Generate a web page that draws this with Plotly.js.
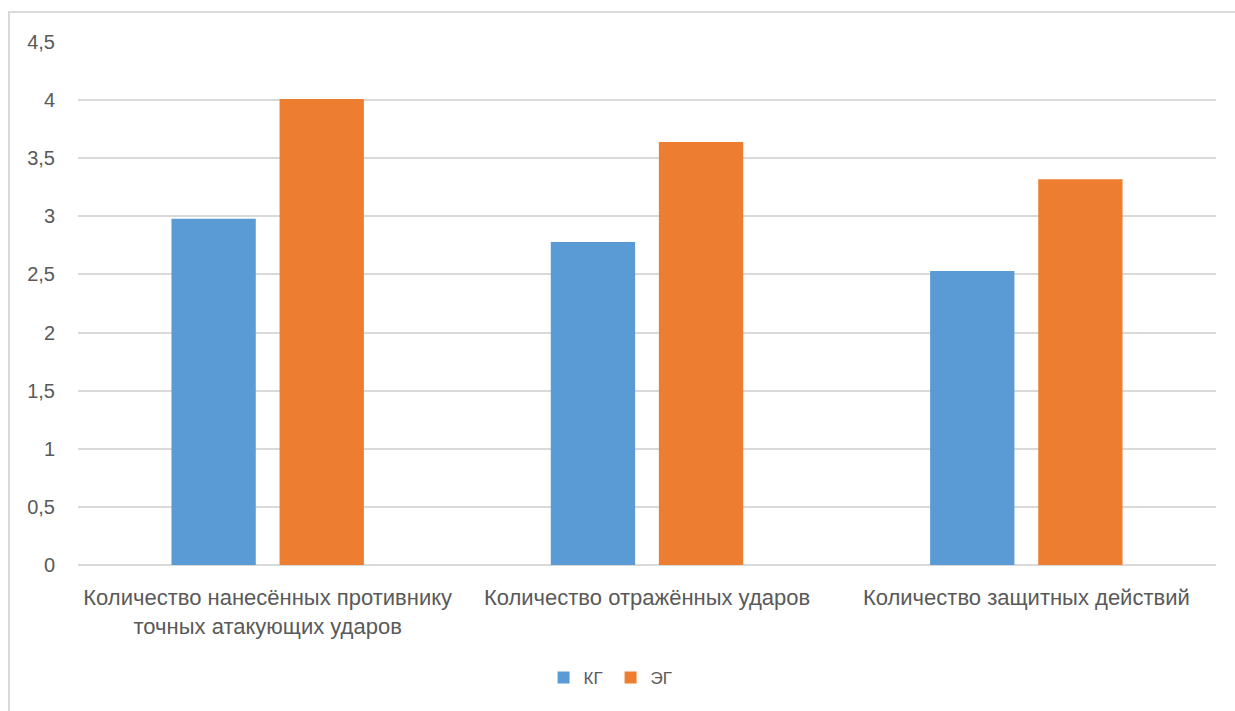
<!DOCTYPE html>
<html>
<head>
<meta charset="utf-8">
<script src="https://cdn.plot.ly/plotly-3.0.1.min.js"></script>
<style>
  html, body { margin: 0; padding: 0; background: #ffffff; }
  #wrap { position: relative; width: 1235px; height: 711px; }
  #chart { width: 1235px; height: 711px; }
  #frame {
    position: absolute; left: 8px; top: 11px; right: 0; bottom: 0;
    border-top: 2px solid #d9d9d9; border-left: 2px solid #d9d9d9;
    pointer-events: none;
  }
</style>
</head>
<body>
<div id="wrap">
  <div id="chart"></div>
  <div id="frame"></div>
</div>
<script>
// Показатели по группам (КГ — контрольная, ЭГ — экспериментальная)
const categories = [
  'Количество нанесённых противнику<br>точных атакующих ударов',
  'Количество отражённых ударов',
  'Количество защитных действий'
];
const seriesNames = ['КГ', 'ЭГ'];
const kgValues = [2.98, 2.78, 2.53];
const egValues = [4.01, 3.64, 3.32];
const yTicks = [0, 0.5, 1, 1.5, 2, 2.5, 3, 3.5, 4, 4.5];

const textColor = '#595959';
const gridColor = '#d9d9d9';
const fontFamily = 'Liberation Sans, Arial, sans-serif';

const traces = [
  {
    type: 'bar', name: seriesNames[0], x: categories, y: kgValues,
    marker: { color: '#5b9bd5' }, hoverinfo: 'y'
  },
  {
    type: 'bar', name: seriesNames[1], x: categories, y: egValues,
    marker: { color: '#ed7d31' }, hoverinfo: 'y'
  }
];

const layout = {
  width: 1235, height: 711,
  margin: { l: 78, r: 19, t: 42, b: 146, pad: 0 },
  paper_bgcolor: '#ffffff', plot_bgcolor: '#ffffff',
  separators: ', ',
  barmode: 'group', bargap: 0.43, bargroupgap: 0.22,
  font: { family: fontFamily, size: 20, color: textColor },
  xaxis: {
    type: 'category', showgrid: false, zeroline: false, showline: false,
    ticks: '', ticklabelstandoff: 17, automargin: false,
    tickfont: { family: fontFamily, size: 22, color: textColor }
  },
  yaxis: {
    range: [0, 4.5], tickvals: yTicks, showgrid: true, gridcolor: gridColor,
    gridwidth: 2, zeroline: true, zerolinecolor: gridColor, zerolinewidth: 2,
    showline: false, ticks: '', ticklabelstandoff: 22, automargin: false,
    tickfont: { family: fontFamily, size: 20, color: textColor }
  },
  showlegend: true,
  legend: {
    orientation: 'h', x: 0.468, xanchor: 'center', y: -0.216, yanchor: 'middle',
    font: { family: fontFamily, size: 17, color: textColor },
    itemwidth: 30, entrywidth: 22, bgcolor: 'rgba(0,0,0,0)'
  }
};

Plotly.newPlot('chart', traces, layout, { displayModeBar: false, staticPlot: true });
</script>
</body>
</html>
